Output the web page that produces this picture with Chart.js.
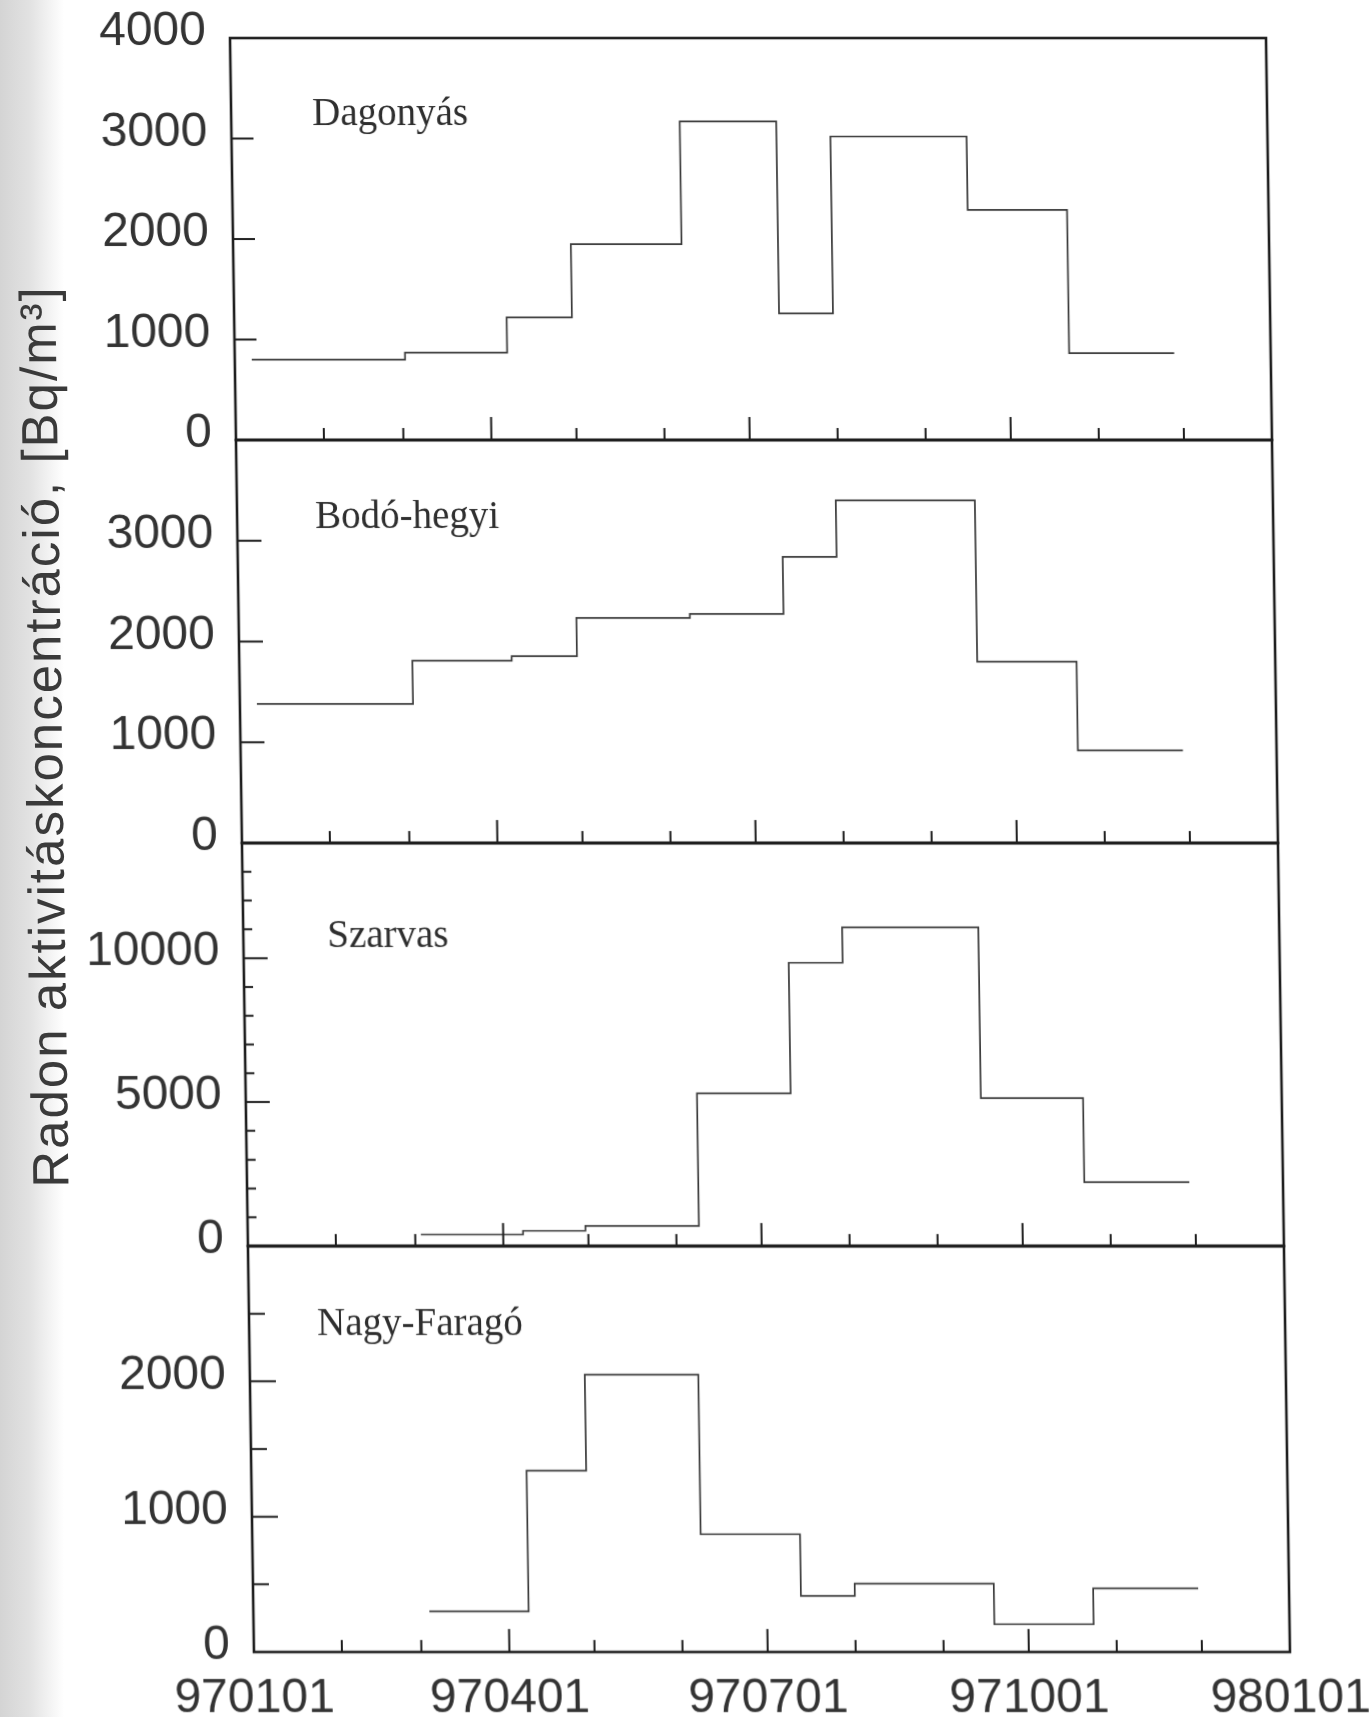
<!DOCTYPE html>
<html>
<head>
<meta charset="utf-8">
<script src="https://cdn.jsdelivr.net/npm/chart.js@4.4.1/dist/chart.umd.min.js"></script>
<style>
  html, body { margin: 0; padding: 0; }
  body {
    width: 1372px; height: 1717px; position: relative; overflow: hidden;
    background: linear-gradient(to right, #d4d4d4 0px, #e2e2e2 30px, #f5f5f5 52px, #fff 64px);
  }
  /* the scanned figure leans a little to the right as it goes down */
  #fig {
    position: absolute; left: 0; top: 0; width: 1372px; height: 1717px;
    transform: skewX(0.85deg); transform-origin: 0 38px;
  }
  #fig canvas { position: absolute; left: 0; }
  #ytitle {
    position: absolute; width: 960px; height: 51px; line-height: 51px;
    left: -450px; top: 711px; transform: rotate(-90deg);
    font: 51px "Liberation Sans", Arial, sans-serif; letter-spacing: 2px;
    color: #3a3a3a; text-align: center; white-space: nowrap;
  }
</style>
</head>
<body>
<div id="fig">
  <div id="ytitle">Radon aktivitáskoncentráció, [Bq/m³]</div>
  <canvas id="p1" width="1372" height="522" style="top:-22px"></canvas>
  <canvas id="p2" width="1372" height="523" style="top:380px"></canvas>
  <canvas id="p3" width="1372" height="523" style="top:783px"></canvas>
  <canvas id="p4" width="1372" height="531" style="top:1186px"></canvas>
</div>
<script>
// x is day of 1997 (0 = 970101, 365 = 980101)
const monthStarts = [0, 31, 59, 90, 120, 151, 181, 212, 243, 273, 304, 334, 365];
const majorDays = [0, 90, 181, 273, 365];
const xLabels = ['970101', '970401', '970701', '971001', '980101'];

// period start/end days and mean values per site
const dagEdges = [6, 60, 96, 119, 158, 192, 211, 259, 294, 331];
const dagValues = [800, 870, 1220, 1950, 3170, 1260, 3020, 2290, 865];

const bodoEdges = [6, 61, 96, 119, 159, 192, 211, 260, 295, 332];
const bodoValues = [1380, 1810, 1855, 2235, 2275, 2840, 3400, 1800, 920];

const szarEdges = [61, 97, 119, 159, 192, 211, 259, 295, 332];
const szarValues = [400, 530, 700, 5300, 9840, 11070, 5140, 2220];

const nagyEdges = [62, 97, 118, 158, 193, 212, 261, 296, 333];
const nagyValues = [300, 1340, 2050, 870, 415, 505, 205, 470];

const dagTicks = [0, 1000, 2000, 3000, 4000];
const bodoTicks = [0, 1000, 2000, 3000];
const szarTicks = [0, 5000, 10000];
const nagyTicks = [0, 1000, 2000];

const szarMinor = [1000, 2000, 3000, 4000, 6000, 7000, 8000, 9000, 11000, 12000, 13000];
const nagyMinor = [500, 1500, 2500];

const ink = '#1e1e1e';

const decor = {
  id: 'decor',
  afterDraw(chart, args, o) {
    const {ctx, chartArea: a, scales: {x, y}} = chart;
    ctx.save();
    ctx.strokeStyle = ink;
    ctx.lineWidth = 2;
    ctx.beginPath();
    monthStarts.slice(1, -1).forEach(d => {
      const px = x.getPixelForValue(d);
      const len = majorDays.includes(d) ? 23 : 12;
      ctx.moveTo(px, a.bottom);
      ctx.lineTo(px, a.bottom - len);
    });
    o.yMajor.forEach(v => {
      const py = y.getPixelForValue(v);
      ctx.moveTo(a.left, py);
      ctx.lineTo(a.left + o.majorLen, py);
    });
    o.yMinor.forEach(v => {
      const py = y.getPixelForValue(v);
      ctx.moveTo(a.left, py);
      ctx.lineTo(a.left + o.minorLen, py);
    });
    ctx.stroke();
    ctx.lineWidth = 2.6;
    ctx.strokeRect(a.left, a.top, a.right - a.left, a.bottom - a.top);
    ctx.fillStyle = '#2e2e2e';
    ctx.font = '39px "Liberation Serif", "Times New Roman", serif';
    ctx.textBaseline = 'alphabetic';
    ctx.fillText(o.label, a.left + o.dx, a.top + o.dy);
    ctx.restore();
  }
};

function stepPoints(edges, values) {
  return edges.map((e, i) => ({x: e, y: values[Math.min(i, values.length - 1)]}));
}

function makePanel(id, edges, values, yMax, yTicks, decorOpts, bottomAxis) {
  new Chart(document.getElementById(id), {
    type: 'line',
    data: {
      datasets: [{
        data: stepPoints(edges, values),
        stepped: true,
        borderColor: '#3a3a3a',
        borderWidth: 1.7,
        pointRadius: 0,
        fill: false
      }]
    },
    plugins: [decor],
    options: {
      responsive: false,
      animation: false,
      devicePixelRatio: 1,
      layout: {padding: {left: 0, right: 106, top: 60, bottom: bottomAxis ? 0 : 60}},
      plugins: {legend: {display: false}, tooltip: {enabled: false}, decor: decorOpts},
      scales: {
        x: {
          type: 'linear', min: 0, max: 365,
          display: bottomAxis,
          grid: {display: false, drawTicks: false}, border: {display: false},
          afterFit: s => { s.height = bottomAxis ? 65 : 0; },
          afterBuildTicks: s => { s.ticks = majorDays.map(v => ({value: v})); },
          ticks: {
            autoSkip: false, maxRotation: 0, minRotation: 0, padding: 18,
            color: '#333', font: {family: '"Liberation Sans", Arial, sans-serif', size: 48},
            callback: v => xLabels[majorDays.indexOf(v)]
          }
        },
        y: {
          type: 'linear', min: 0, max: yMax,
          grid: {display: false, drawTicks: false}, border: {display: false},
          afterFit: s => { s.width = 230; },
          afterBuildTicks: s => { s.ticks = yTicks.map(v => ({value: v})); },
          ticks: {
            padding: 24, labelOffset: -6, color: '#333',
            font: {family: '"Liberation Sans", Arial, sans-serif', size: 48},
            callback: v => String(v)
          }
        }
      }
    }
  });
}

makePanel('p1', dagEdges, dagValues, 4000, dagTicks,
  {label: 'Dagonyás', dx: 81, dy: 87, yMajor: [1000, 2000, 3000], yMinor: [], majorLen: 22, minorLen: 10}, false);
makePanel('p2', bodoEdges, bodoValues, 4000, bodoTicks,
  {label: 'Bodó-hegyi', dx: 78, dy: 88, yMajor: [1000, 2000, 3000], yMinor: [], majorLen: 24, minorLen: 10}, false);
makePanel('p3', szarEdges, szarValues, 14000, szarTicks,
  {label: 'Szarvas', dx: 84, dy: 104, yMajor: [5000, 10000], yMinor: szarMinor, majorLen: 24, minorLen: 9}, false);
makePanel('p4', nagyEdges, nagyValues, 3000, nagyTicks,
  {label: 'Nagy-Faragó', dx: 68, dy: 89, yMajor: [1000, 2000], yMinor: nagyMinor, majorLen: 26, minorLen: 16}, true);
</script>
</body>
</html>
